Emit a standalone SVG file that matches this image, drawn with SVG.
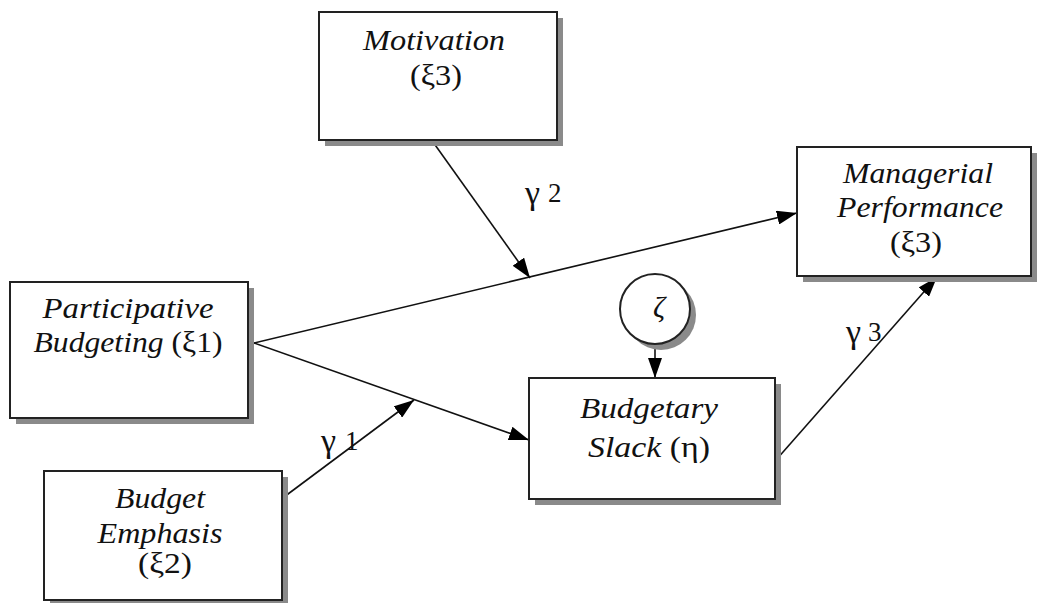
<svg xmlns="http://www.w3.org/2000/svg" width="1039" height="603" viewBox="0 0 1039 603">
<defs>
<marker id="ah" viewBox="0 0 20 14" refX="20" refY="7" markerWidth="20" markerHeight="14" markerUnits="userSpaceOnUse" orient="auto">
<path d="M0,0 L20,7 L0,14 Z" fill="#000"/>
</marker>
</defs>
<style>
.box{fill:#fff;stroke:#222;stroke-width:2}
.shadow{fill:#8a8a8a}
.lbl{font-family:"Liberation Serif","Times New Roman",serif;font-size:30px;font-style:italic;fill:#111;text-anchor:middle}
.up{font-style:normal}
.g{font-family:"Liberation Serif","Times New Roman",serif;font-size:34px;fill:#111}
.d{font-size:27px}
.edge{stroke:#111;stroke-width:1.6;fill:none}
</style>
<rect width="1039" height="603" fill="#fff"/>
<g id="connectors">
<line class="edge" x1="433" y1="142" x2="530" y2="278" marker-end="url(#ah)"/>
<line class="edge" x1="254" y1="343" x2="797" y2="213" marker-end="url(#ah)"/>
<line class="edge" x1="254" y1="343" x2="529" y2="440" marker-end="url(#ah)"/>
<line class="edge" x1="284" y1="497" x2="414" y2="400" marker-end="url(#ah)"/>
<line class="edge" x1="776" y1="460" x2="937" y2="277" marker-end="url(#ah)"/>
<line class="edge" x1="655" y1="344" x2="655" y2="378" marker-end="url(#ah)"/>
<text class="g" x="525" y="204">γ<tspan class="d" x="548" y="202">2</tspan></text>
<text class="g" x="321" y="452">γ<tspan class="d" x="345" y="450">1</tspan></text>
<text class="g" x="846" y="343">γ<tspan class="d" x="868" y="341">3</tspan></text>
</g>
<g id="motivation">
<rect class="shadow" x="325" y="18" width="238" height="128"/>
<rect class="box" x="319" y="12" width="238" height="128"/>
<text class="lbl" x="434" y="50" textLength="142" lengthAdjust="spacingAndGlyphs">Motivation</text>
<text class="lbl up" x="436" y="85" textLength="52" lengthAdjust="spacingAndGlyphs">(ξ3)</text>
</g>
<g id="managerial">
<rect class="shadow" x="803" y="153" width="234" height="129"/>
<rect class="box" x="797" y="147" width="234" height="129"/>
<text class="lbl" x="918" y="183" textLength="150" lengthAdjust="spacingAndGlyphs">Managerial</text>
<text class="lbl" x="920" y="217" textLength="166" lengthAdjust="spacingAndGlyphs">Performance</text>
<text class="lbl up" x="916" y="252" textLength="52" lengthAdjust="spacingAndGlyphs">(ξ3)</text>
</g>
<g id="participative">
<rect class="shadow" x="16" y="288" width="238" height="136"/>
<rect class="box" x="10" y="282" width="238" height="136"/>
<text class="lbl" x="128" y="318" textLength="171" lengthAdjust="spacingAndGlyphs">Participative</text>
<text class="lbl" x="128" y="352" textLength="189" lengthAdjust="spacingAndGlyphs">Budgeting <tspan class="up">(ξ1)</tspan></text>
</g>
<g id="emphasis">
<rect class="shadow" x="50" y="477" width="238" height="129"/>
<rect class="box" x="44" y="471" width="238" height="129"/>
<text class="lbl" x="160" y="508" textLength="90" lengthAdjust="spacingAndGlyphs">Budget</text>
<text class="lbl" x="160" y="543" textLength="125" lengthAdjust="spacingAndGlyphs">Emphasis</text>
<text class="lbl up" x="165" y="573" textLength="54" lengthAdjust="spacingAndGlyphs">(ξ2)</text>
</g>
<g id="slack">
<rect class="shadow" x="535" y="384" width="246" height="121"/>
<rect class="box" x="529" y="378" width="246" height="121"/>
<text class="lbl" x="649" y="418" textLength="138" lengthAdjust="spacingAndGlyphs">Budgetary</text>
<text class="lbl" x="649" y="457" textLength="122" lengthAdjust="spacingAndGlyphs">Slack <tspan class="up">(η)</tspan></text>
</g>
<g id="zeta">
<circle class="shadow" cx="661" cy="315" r="35"/>
<circle class="box" cx="655" cy="309" r="35"/>
<text class="lbl" x="659" y="317">ζ</text>
</g>
</svg>
